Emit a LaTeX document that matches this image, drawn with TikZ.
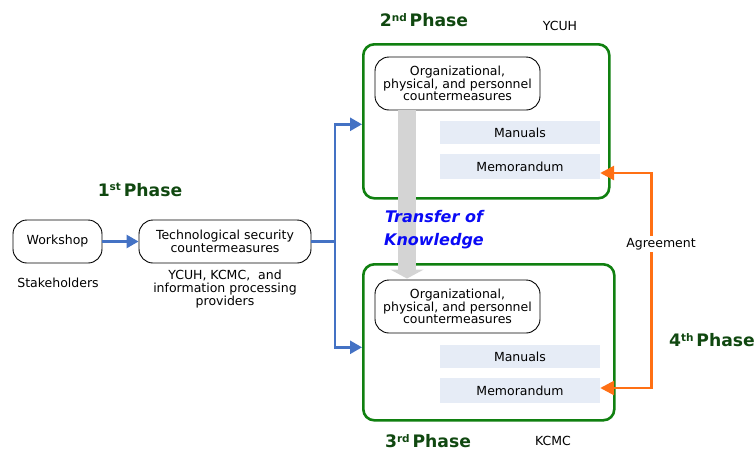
\documentclass[tikz,border=0pt]{standalone}
\usepackage{fontspec}
\setmainfont{DejaVu Sans}
\usetikzlibrary{arrows.meta,calc}
\definecolor{boxgreen}{RGB}{16,128,16}
\definecolor{phasegreen}{RGB}{16,72,16}
\definecolor{arrblue}{RGB}{68,114,196}
\definecolor{arrorange}{RGB}{255,112,20}
\definecolor{docfill}{RGB}{230,236,246}
\definecolor{kgray}{RGB}{212,212,212}
\definecolor{kblue}{RGB}{10,10,245}
\tikzset{
  body/.style={font=\fontsize{12.5}{12.6}\selectfont, align=center, inner sep=0pt},
  roundnode/.style={body, draw=black, line width=0.9pt, rounded corners=14pt},
  phasebox/.style={draw=boxgreen, line width=2.6pt, rounded corners=11pt, anchor=north west, inner sep=0pt},
  docbox/.style={body, fill=docfill, minimum width=160pt},
  phaselabel/.style={font=\fontsize{17.2}{17}\selectfont\bfseries, text=phasegreen, inner sep=0pt},
  bluearrow/.style={draw=arrblue, line width=2.6pt, -{Triangle[length=12pt,width=13pt]}},
  bluebar/.style={draw=arrblue, line width=2.6pt},
  orangearrow/.style={draw=arrorange, line width=2.8pt, {Triangle[length=14pt,width=14pt]}-{Triangle[length=14pt,width=14pt]}},
}
\newcommand{\ph}[2]{#1\raisebox{5.5pt}{\fontsize{10.5}{10}\selectfont #2}\,Phase}
\begin{document}
\begin{tikzpicture}[x=1pt,y=-1pt]
\useasboundingbox (0,0) rectangle (756,453);
% green phase boxes
\node[phasebox, minimum width=246pt, minimum height=154pt] (topbox) at (362,43) {};
\node[phasebox, minimum width=251pt, minimum height=156pt] (botbox) at (362,263) {};
% inner nodes
\node[roundnode, minimum width=165pt, minimum height=53pt] (topinner) at (457.5,83.5)
  {Organizational,\\physical, and personnel\\countermeasures};
\node[roundnode, minimum width=165pt, minimum height=53pt] (botinner) at (457.5,306.5)
  {Organizational,\\physical, and personnel\\countermeasures};
\node[docbox, minimum height=23pt] (mantop) at (520,132.5) {Manuals};
\node[docbox, minimum height=25pt] (memotop) at (520,166.5) {Memorandum};
\node[docbox, minimum height=23pt] (manbot) at (520,356.5) {Manuals};
\node[docbox, minimum height=25pt] (memobot) at (520,390.5) {Memorandum};
% left nodes
\node[roundnode, minimum width=89pt, minimum height=43pt] (ws) at (57.5,241.5) {Workshop};
\node[roundnode, minimum width=172pt, minimum height=43pt] (tech) at (225,241.5)
  {Technological security\\countermeasures};
\node[body] (stake) at (58,283) {Stakeholders};
\node[body] (provs) at (225,289) {YCUH, KCMC,\ \ and\\information processing\\providers};
% phase labels
\node[phaselabel] (p1) at (140,190) {\ph{1}{st}};
\node[phaselabel] (p2) at (424,20) {\ph{2}{nd}};
\node[phaselabel] (p3) at (428,441) {\ph{3}{rd}};
\node[phaselabel] (p4) at (712,340) {\ph{4}{th}};
\node[body] (ycuh) at (560,26) {YCUH};
\node[body] (kcmc) at (553,441) {KCMC};
% transfer arrow
\draw[kgray, line width=18pt, -{Triangle[length=9pt,width=33pt]}]
  ([xshift=-50.5pt]topinner.south) -- ([xshift=-50.5pt,yshift=1pt]botinner.north);
\node[font=\fontsize{16}{23}\selectfont\bfseries\itshape, text=kblue, align=center, inner sep=0pt]
  (tk) at (434,229.5) {Transfer of\\Knowledge};
% blue connectors
\draw[arrblue, line width=2.6pt, -{Triangle[length=12pt,width=13pt]}] (ws.east) -- (tech.west);
\coordinate (j) at (335,241.5);
\draw[bluebar] (tech.east) -- (j);
\draw[bluearrow] (j) |- ([yshift=-3pt]topbox.west);
\draw[bluearrow] (j) |- ([yshift=-5pt]botbox.west);
% orange agreement
\draw[orangearrow] ([yshift=-6.5pt]memotop.east) -- ++(51,0) |- ([yshift=2.5pt]memobot.east);
\node[body, fill=white, inner sep=2pt] (agr) at (661,244) {Agreement};
\end{tikzpicture}
\end{document}
